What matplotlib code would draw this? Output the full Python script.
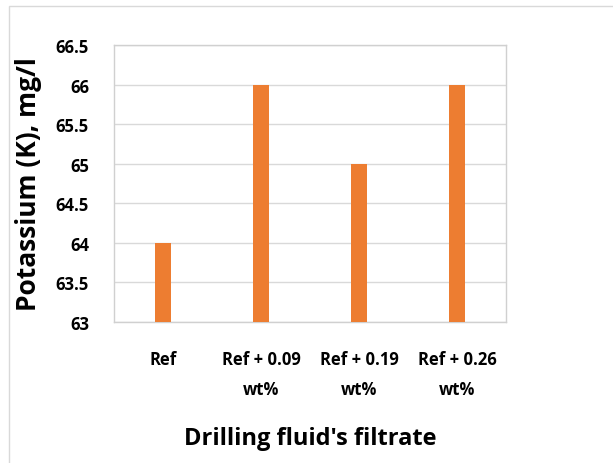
import matplotlib
matplotlib.use("Agg")
import matplotlib.pyplot as plt
from matplotlib.patches import Rectangle

categories = ["Ref", "Ref + 0.09\nwt%", "Ref + 0.19\nwt%", "Ref + 0.26\nwt%"]
values = [64, 66, 65, 66]
yticks = [63, 63.5, 64, 64.5, 65, 65.5, 66, 66.5]
ytick_labels = ["63", "63.5", "64", "64.5", "65", "65.5", "66", "66.5"]

plt.rcParams['font.family'] = ['Open Sans', 'DejaVu Sans']
W, H = 613, 464
fig = plt.figure(figsize=(W / 100, H / 100), dpi=100)
ax = fig.add_axes([114 / W, 1 - 323 / H, (506 - 114) / W, (323 - 46) / H])

x = list(range(len(categories)))
ax.bar(x, [v - 63 for v in values], bottom=63, width=0.16, color="#ED7D31", zorder=3)
ax.set_xlim(-0.5, len(categories) - 0.5)
ax.set_ylim(63, 66.5)
ax.set_yticks(yticks)
ax.set_yticklabels(ytick_labels, fontsize=12, fontweight="bold")
ax.set_xticks(x)
ax.set_xticklabels(categories, fontsize=12, fontweight="bold", linespacing=1.9)
ax.tick_params(axis="both", length=0)
ax.tick_params(axis="y", pad=18)
ax.tick_params(axis="x", pad=20)
ax.grid(axis="y", color="#d9d9d9", linewidth=1, zorder=0)
for s in ax.spines.values():
    s.set_color("#d0d0d0")
    s.set_linewidth(1)
ax.set_ylabel("Potassium (K), mg/l", fontsize=19, fontweight="bold", labelpad=10)
ax.set_xlabel("Drilling fluid's filtrate", fontsize=17, fontweight="bold", labelpad=20)

fig.patches.append(Rectangle((9 / W, -0.1), 1.2, (H - 7) / H + 0.1, transform=fig.transFigure,
                             fill=False, edgecolor="#d9d9d9", linewidth=1))
fig.savefig("out.png", dpi=100)
